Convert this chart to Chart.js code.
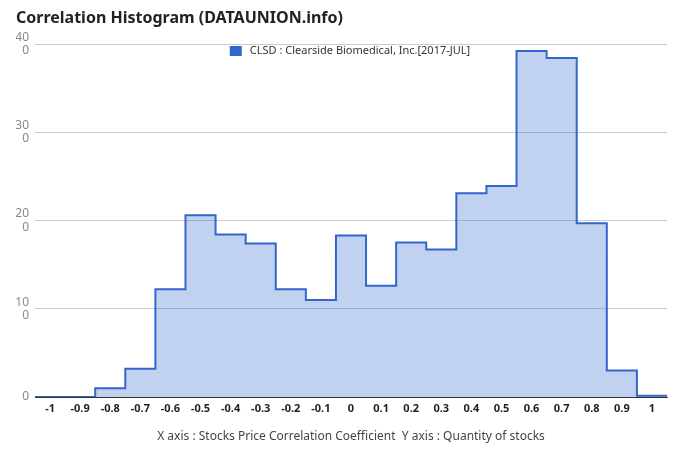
<!DOCTYPE html>
<html>
<head>
<meta charset="utf-8">
<script src="https://cdn.jsdelivr.net/npm/chart.js@4/dist/chart.umd.min.js"></script>
<style>
  body { margin: 0; background: #fff; }
  canvas { display: block; }
</style>
</head>
<body>
<canvas id="chart" width="680" height="462"></canvas>
<script>
// bin centres of the correlation histogram
const binCenters = [-1, -0.9, -0.8, -0.7, -0.6, -0.5, -0.4, -0.3, -0.2, -0.1, 0,
                    0.1, 0.2, 0.3, 0.4, 0.5, 0.6, 0.7, 0.8, 0.9, 1];
const binWidth = 0.1;
// quantity of stocks per bin
const counts = [0, 0, 1.0, 3.2, 12.2, 20.6, 18.4, 17.4, 12.2, 11.0, 18.3,
                12.6, 17.5, 16.7, 23.1, 23.9, 39.2, 38.4, 19.7, 3.0, 0.15];
const xTicks = binCenters;
const yTicks = [0, 10, 20, 30, 40];
const yTickLabels = [['0'], ['10', '0'], ['20', '0'], ['30', '0'], ['40', '0']];

const seriesLabel = 'CLSD : Clearside Biomedical, Inc.[2017-JUL]';
const lineColor = '#3366cc';

// step points at left bin edges, plus closing point at the right edge
const points = binCenters.map((c, i) => ({ x: c - binWidth / 2, y: counts[i] }));
points.push({ x: binCenters[binCenters.length - 1] + binWidth / 2, y: counts[counts.length - 1] });

const FONT = "'Noto Sans', sans-serif";

// legend drawn inside the plot, centred near the top
const insideLegend = {
  id: 'insideLegend',
  afterDatasetsDraw(chart) {
    const { ctx, chartArea } = chart;
    ctx.save();
    ctx.font = '11px ' + FONT;
    const tw = ctx.measureText(seriesLabel).width;
    const total = 12 + 8 + tw;
    const x0 = (chartArea.left + chartArea.right) / 2 - total / 2 - 1;
    const y0 = chartArea.top + 2;
    ctx.fillStyle = lineColor;
    ctx.fillRect(x0, y0, 12, 10);
    ctx.fillStyle = '#333';
    ctx.textBaseline = 'middle';
    ctx.fillText(seriesLabel, x0 + 20, y0 + 5);
    ctx.restore();
  }
};

new Chart(document.getElementById('chart'), {
  type: 'line',
  data: {
    datasets: [{
      label: seriesLabel,
      data: points,
      stepped: 'before',
      borderColor: lineColor,
      borderWidth: 2,
      backgroundColor: 'rgba(51,102,204,0.3)',
      fill: 'origin',
      pointRadius: 0
    }]
  },
  options: {
    responsive: false,
    animation: false,
    layout: { padding: { left: 16, right: 13, top: 0, bottom: 0 } },
    plugins: {
      title: {
        display: true,
        text: 'Correlation Histogram (DATAUNION.info)',
        align: 'start',
        color: '#222',
        font: { family: FONT, size: 16, weight: 'bold' },
        padding: { top: 9, bottom: 15.8 }
      },
      legend: { display: false },
      tooltip: { enabled: false }
    },
    scales: {
      x: {
        type: 'linear',
        min: binCenters[0] - binWidth / 2,
        max: binCenters[binCenters.length - 1] + binWidth / 2,
        afterBuildTicks: s => { s.ticks = xTicks.map(v => ({ value: v })); },
        afterFit: s => { s.height = 65; },
        grid: { display: false, drawTicks: false },
        border: { display: true, color: '#333', width: 1 },
        ticks: {
          autoSkip: false,
          maxRotation: 0,
          padding: 5,
          color: '#222',
          font: { family: FONT, size: 11, weight: 'bold' },
          callback: v => String(Math.round(v * 10) / 10)
        },
        title: {
          display: true,
          text: 'X axis : Stocks Price Correlation Coefficient  Y axis : Quantity of stocks',
          color: '#444',
          font: { family: FONT, size: 12 },
          padding: { top: 0, bottom: 18 }
        }
      },
      y: {
        min: 0,
        max: 40,
        afterBuildTicks: s => { s.ticks = yTicks.map(v => ({ value: v })); },
        afterFit: s => { s.width = 19; },
        grid: {
          drawTicks: false,
          color: c => (c.tick && c.tick.value === 0 ? '#333' : '#cccccc')
        },
        border: { display: false },
        ticks: {
          padding: 6,
          color: '#888',
          font: { family: FONT, size: 12, lineHeight: 1.1 },
          callback: v => yTickLabels[yTicks.indexOf(v)]
        }
      }
    }
  },
  plugins: [insideLegend]
});
</script>
</body>
</html>
